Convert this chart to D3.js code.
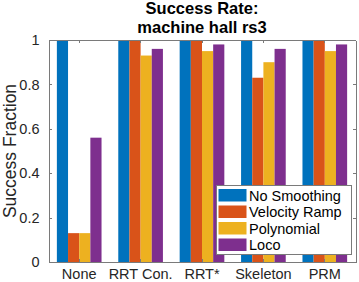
<!DOCTYPE html>
<meta charset="utf-8">
<style>
body { margin: 0; background: #fff; }
svg { display: block; font-family: "Liberation Sans", Arial, sans-serif; }
.axis text { font-size: 14.5px; fill: #262626; }
.axis line, .axis path { stroke: #7a7a7a; shape-rendering: crispEdges; }
</style>
<body>
<div id="chart"></div>
<script src="https://d3js.org/d3.v7.min.js"></script>
<script>
// data
var categories = ["None", "RRT Con.", "RRT*", "Skeleton", "PRM"];
var series = ["No Smoothing", "Velocity Ramp", "Polynomial", "Loco"];
var noSmoothing = [1, 1, 1, 1, 1];
var velocityRamp = [0.13, 1, 1, 0.83, 1];
var polynomial = [0.13, 0.93, 0.95, 0.90, 0.95];
var loco = [0.56, 0.96, 0.98, 0.96, 0.98];
var yTicks = [0, 0.2, 0.4, 0.6, 0.8, 1];
var colors = ["#0072BD", "#D95319", "#EDB120", "#7E2F8E"];

var values = [noSmoothing, velocityRamp, polynomial, loco];

var W = 359, H = 282;
var margin = {top: 40, right: 3.5, bottom: 20, left: 48.5};
var width = W - margin.left - margin.right,
    height = H - margin.top - margin.bottom;

var svg = d3.select("#chart").append("svg")
  .attr("width", W).attr("height", H);

var g = svg.append("g")
  .attr("transform", "translate(" + margin.left + "," + margin.top + ")");

var x0 = d3.scaleBand().domain(categories).range([0, width]).paddingInner(0).paddingOuter(0);
var groupW = x0.bandwidth() * 4 / 5.5;
var x1 = d3.scaleBand().domain(series).range([(x0.bandwidth() - groupW) / 2, (x0.bandwidth() + groupW) / 2]);
var y = d3.scaleLinear().domain([0, 1]).range([height, 0]);

// bars
series.forEach(function(s, si) {
  g.append("g").attr("fill", colors[si])
    .selectAll("rect")
    .data(categories)
    .enter().append("rect")
    .attr("x", function(c) { return x0(c) + x1(s); })
    .attr("width", x1.bandwidth())
    .attr("y", function(c, i) { return y(values[si][i]); })
    .attr("height", function(c, i) { return height - y(values[si][i]); });
});

// axes (box with inward ticks)
var tl = 3;
g.append("g").attr("class", "axis")
  .attr("transform", "translate(0," + height + ")")
  .call(d3.axisBottom(x0).tickSizeInner(-tl).tickSizeOuter(0).tickPadding(7));
g.append("g").attr("class", "axis")
  .call(d3.axisTop(x0).tickSizeInner(-tl).tickSizeOuter(0).tickFormat(""));
g.append("g").attr("class", "axis")
  .call(d3.axisLeft(y).tickValues(yTicks).tickSizeInner(-tl).tickSizeOuter(0).tickPadding(9)
    .tickFormat(function(d) { return d === 0 || d === 1 ? d3.format("d")(d) : d3.format(".1f")(d); }));
g.append("g").attr("class", "axis")
  .attr("transform", "translate(" + width + ",0)")
  .call(d3.axisRight(y).tickValues(yTicks).tickSizeInner(-tl).tickSizeOuter(0).tickFormat(""));

// title
var title = svg.append("text")
  .attr("text-anchor", "middle")
  .attr("font-weight", "bold")
  .attr("font-size", "16.5px")
  .attr("fill", "#000")
  .attr("x", margin.left + width / 2);
title.append("tspan").attr("x", margin.left + width / 2).attr("y", 14).text("Success Rate:");
title.append("tspan").attr("x", margin.left + width / 2).attr("y", 33).text("machine hall rs3");

// y label
svg.append("text")
  .attr("transform", "translate(15.5," + (margin.top + height / 2) + ") rotate(-90)")
  .attr("text-anchor", "middle")
  .attr("font-size", "17.5px")
  .attr("fill", "#262626")
  .text("Success Fraction");

// legend
var lg = svg.append("g").attr("transform", "translate(216,185)");
lg.append("rect").attr("width", 135).attr("height", 69)
  .attr("fill", "#fff").attr("stroke", "#7a7a7a").attr("shape-rendering", "crispEdges");
series.forEach(function(s, i) {
  lg.append("rect").attr("x", 2.5).attr("y", 4 + i * 16.5)
    .attr("width", 28).attr("height", 12.5).attr("fill", colors[i]);
  lg.append("text").attr("x", 33).attr("y", 15.5 + i * 16.5)
    .attr("font-size", "14.5px").attr("fill", "#000").text(s);
});
</script>
